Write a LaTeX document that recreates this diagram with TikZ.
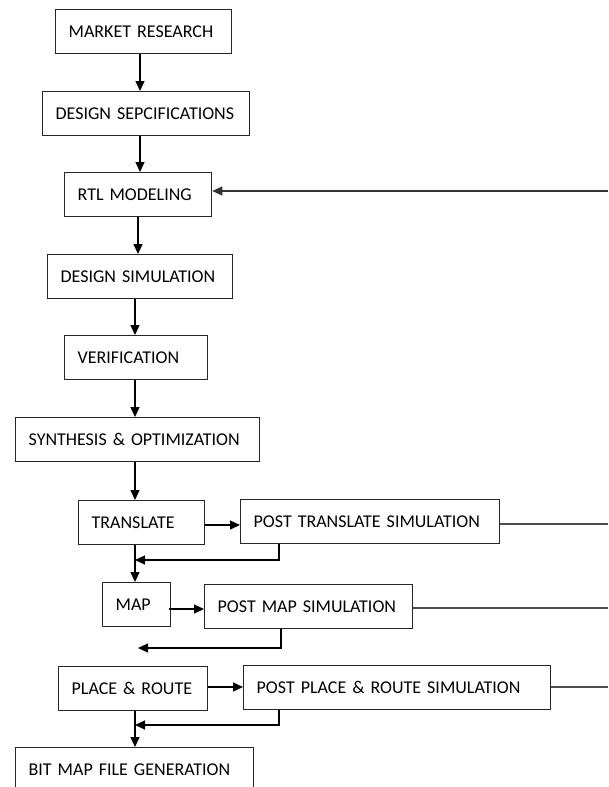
\documentclass[tikz,border=0pt]{standalone}
\usepackage{fontspec}
\setmainfont{Carlito}
\usetikzlibrary{arrows.meta}
\tikzstyle{block} = [rectangle, anchor=north west,
minimum height=44pt,
inner xsep=13pt,
align=left,
line width=1.3pt,
draw=black!85]
\tikzstyle{arrow} = [line width=1.3pt,->,>={Triangle[length=10pt,width=9pt]}]
\tikzstyle{wire} = [line width=1.3pt, draw=black!70]

\begin{document}
\begin{tikzpicture}[x=1pt, y=-1pt, font=\fontsize{18}{20}\selectfont]
        \useasboundingbox (0,0) rectangle (608,787);
        \node (market) [block, text width=150pt] at (55,9) {MARKET RESEARCH};
        \node (spec) [block, text width=181pt] at (42,91) {DESIGN SEPCIFICATIONS};
        \node (rtl) [block, text width=121pt] at (64,172) {RTL MODELING};
        \node (dsim) [block, text width=159pt] at (47,254) {DESIGN SIMULATION};
        \node (verif) [block, text width=117pt] at (64,335) {VERIFICATION};
        \node (synth) [block, text width=218pt] at (15,417) {SYNTHESIS \& OPTIMIZATION};
        \node (trans) [block, text width=100pt] at (78,500) {TRANSLATE};
        \node (pts) [block, text width=233pt] at (240,499) {POST TRANSLATE SIMULATION};
        \node (map) [block, text width=42pt] at (102,582) {MAP};
        \node (pms) [block, text width=182pt] at (204,584) {POST MAP SIMULATION};
        \node (pr) [block, text width=123pt] at (58,666) {PLACE \& ROUTE};
        \node (pprs) [block, text width=281pt] at (243,665) {POST PLACE \& ROUTE SIMULATION};
        \node (bmfg) [block, text width=212pt] at (15,747) {BIT MAP FILE GENERATION};

        % main flow
        \coordinate (upper) at (140,0);
        \coordinate (mid) at (138,0);
        \coordinate (trunk) at (135,0);
        \draw [arrow] (market.south -| upper) -- (spec.north -| upper);
        \draw [arrow] (spec.south -| upper) -- (rtl.north -| upper);
        \draw [arrow] (rtl.south -| mid) -- (dsim.north -| mid);
        \draw [arrow] (dsim.south -| trunk) -- (verif.north -| trunk);
        \draw [arrow] (verif.south -| trunk) -- (synth.north -| trunk);
        \draw [arrow] (synth.south -| trunk) -- (trans.north -| trunk);
        \draw [arrow] (trans.south -| trunk) -- (map.north -| trunk);
        \draw [arrow] (pr.south -| trunk) -- (bmfg.north -| trunk);

        % simulations
        \coordinate (rowtr) at (0,525);
        \coordinate (rowmap) at (0,609);
        \coordinate (rowpr) at (0,687);
        \draw [arrow] (trans.east |- rowtr) -- (pts.west |- rowtr);
        \draw [arrow] ([xshift=-2pt]map.east |- rowmap) -- (pms.west |- rowmap);
        \draw [arrow] (pr.east |- rowpr) -- (pprs.west |- rowpr);

        % returns
        \coordinate (retpts) at (279,560);
        \coordinate (retpms) at (281,648);
        \coordinate (loose) at (138,648);
        \coordinate (retpprs) at (279,725);
        \draw [arrow] (retpts |- pts.south) -- (retpts) -- (retpts -| trunk);
        \draw [arrow] (retpms |- pms.south) -- (retpms) -- (loose);
        \draw [arrow] (retpprs |- pprs.south) -- (retpprs) -- (retpprs -| trunk);

        % lines to the right edge
        \coordinate (fbrtl) at (608,191);
        \coordinate (fbpts) at (608,524);
        \coordinate (fbpms) at (608,608);
        \coordinate (fbpprs) at (608,687);
        \draw [arrow, draw=black!80] (fbrtl) -- (fbrtl -| rtl.east);
        \draw [wire] (fbpts -| pts.east) -- (fbpts);
        \draw [wire] (fbpms -| pms.east) -- (fbpms);
        \draw [wire] (fbpprs -| pprs.east) -- (fbpprs);
    \end{tikzpicture}
\end{document}
